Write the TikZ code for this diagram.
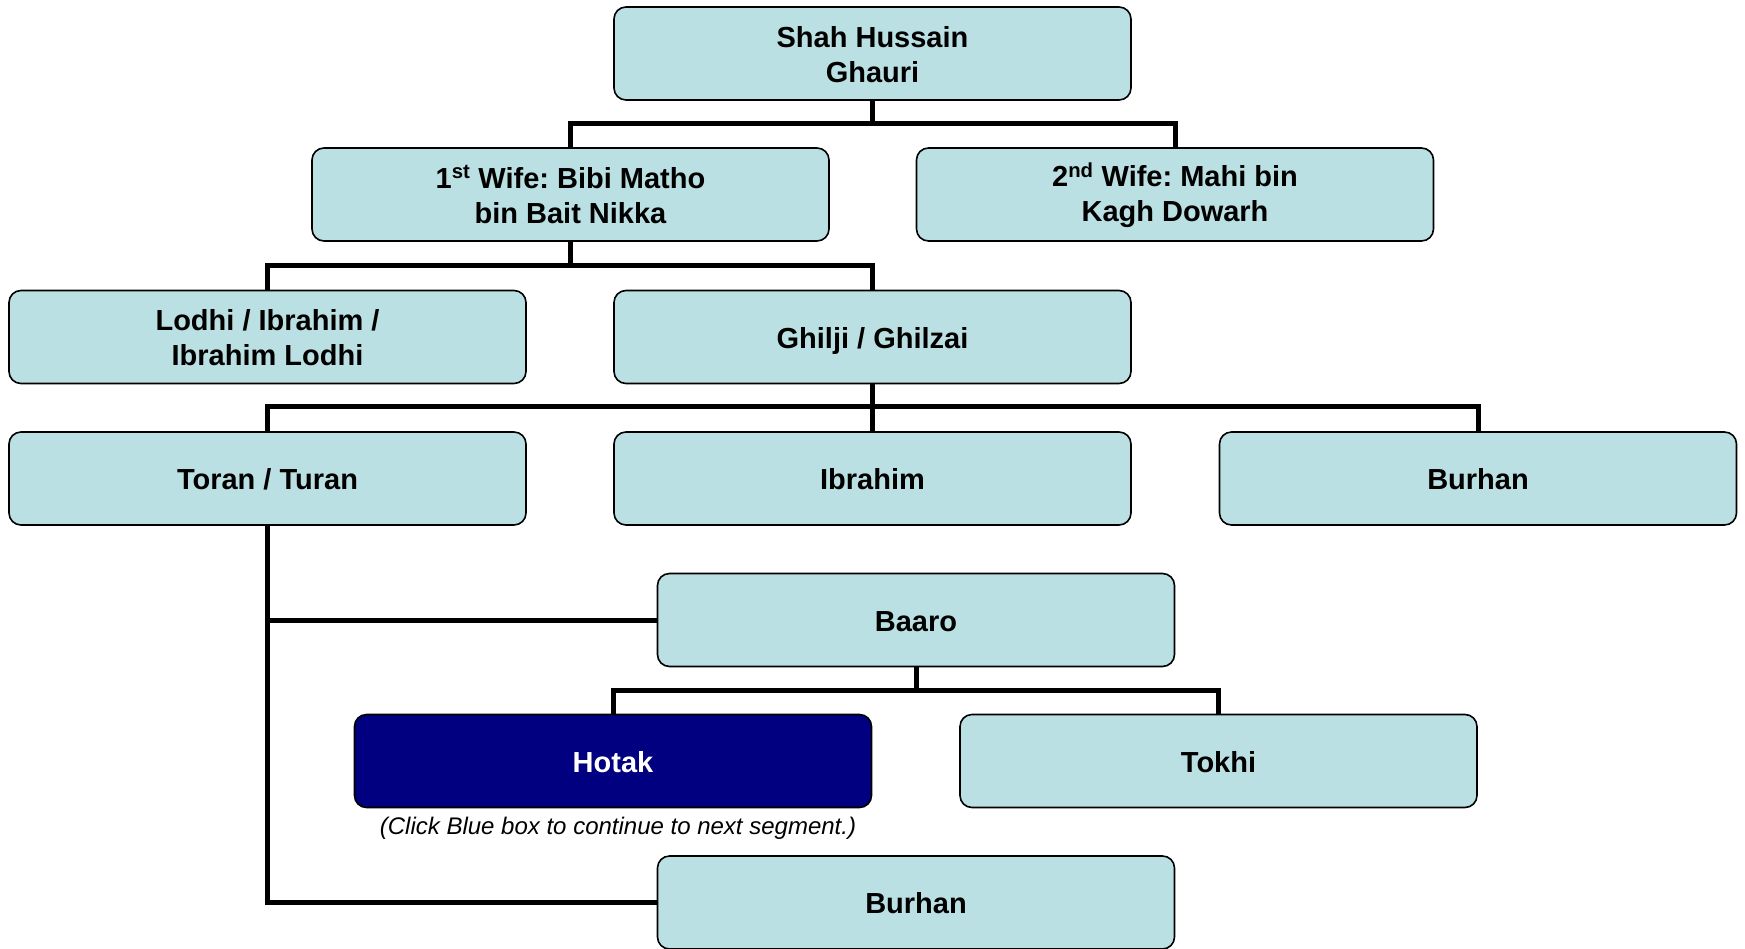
\documentclass[tikz,border=0pt]{standalone}
\usepackage{fontspec}
\setmainfont{Liberation Sans}
\frenchspacing
\definecolor{boxfill}{HTML}{BBE0E3}
\definecolor{navyfill}{HTML}{000080}
\newcommand{\topstrut}{\rule{0pt}{25pt}}
\newcommand{\botstrut}{\rule[-3pt]{0pt}{3pt}}
\begin{document}
\begin{tikzpicture}[x=1pt,y=-1pt,
  box/.style={draw=black, line width=1.6pt, rounded corners=12pt, fill=boxfill,
    minimum width=517pt, minimum height=93pt, inner sep=0pt, align=center,
    font=\fontsize{29}{35}\selectfont\bfseries},
  one/.style={box, text height=22pt, text depth=0pt},
  two/.style={box},
  hot/.style={one, fill=navyfill, text=white},
  conn/.style={draw=black, line width=5pt},
  note/.style={font=\fontsize{24}{28}\selectfont\itshape, inner sep=0pt}]
\fill[white] (0,0) rectangle (1745,948);
\clip (0,0) rectangle (1745,948);
\node[two] (shah) at (872.5,53.5) {\topstrut Shah Hussain\\Ghauri\botstrut};
\node[two] (w1) at (570.5,194.5) {\topstrut 1\textsuperscript{st} Wife: Bibi Matho\\bin Bait Nikka\botstrut};
\node[two] (w2) at (1175,194.5) {\topstrut 2\textsuperscript{nd} Wife: Mahi bin\\Kagh Dowarh\botstrut};
\node[two] (lodhi) at (267.5,337) {\topstrut Lodhi / Ibrahim /\\Ibrahim Lodhi\botstrut};
\node[one] (ghilji) at (872.5,337) {Ghilji / Ghilzai};
\node[one] (toran) at (267.5,478.5) {Toran / Turan};
\node[one] (ibrahim) at (872.5,478.5) {Ibrahim};
\node[one] (burhan1) at (1478,478.5) {Burhan};
\node[one] (baaro) at (916,620) {Baaro};
\node[hot] (hotak) at (613,761) {Hotak};
\node[one] (tokhi) at (1218.5,761) {Tokhi};
\node[one] (burhan2) at (916,902.5) {Burhan};
\node[note] (click) at (618,828) {(Click Blue box to continue to next segment.)};
\coordinate (b1) at (872.5,123.5);
\coordinate (b2) at (570.5,265);
\coordinate (b3) at (872.5,406);
\coordinate (b4) at (916,690);
\draw[conn] (shah.south) -- (b1);
\draw[conn] (w1.north) |- (b1) -| (w2.north);
\draw[conn] (w1.south) -- (b2);
\draw[conn] (lodhi.north) |- (b2) -| (ghilji.north);
\draw[conn] (ghilji.south) -- (ibrahim.north);
\draw[conn] (toran.north) |- (b3) -| (burhan1.north);
\draw[conn] (toran.south) |- (baaro.west);
\draw[conn] (toran.south) |- (burhan2.west);
\draw[conn] (baaro.south) -- (b4);
\draw[conn] (hotak.north) |- (b4) -| (tokhi.north);
\end{tikzpicture}
\end{document}
